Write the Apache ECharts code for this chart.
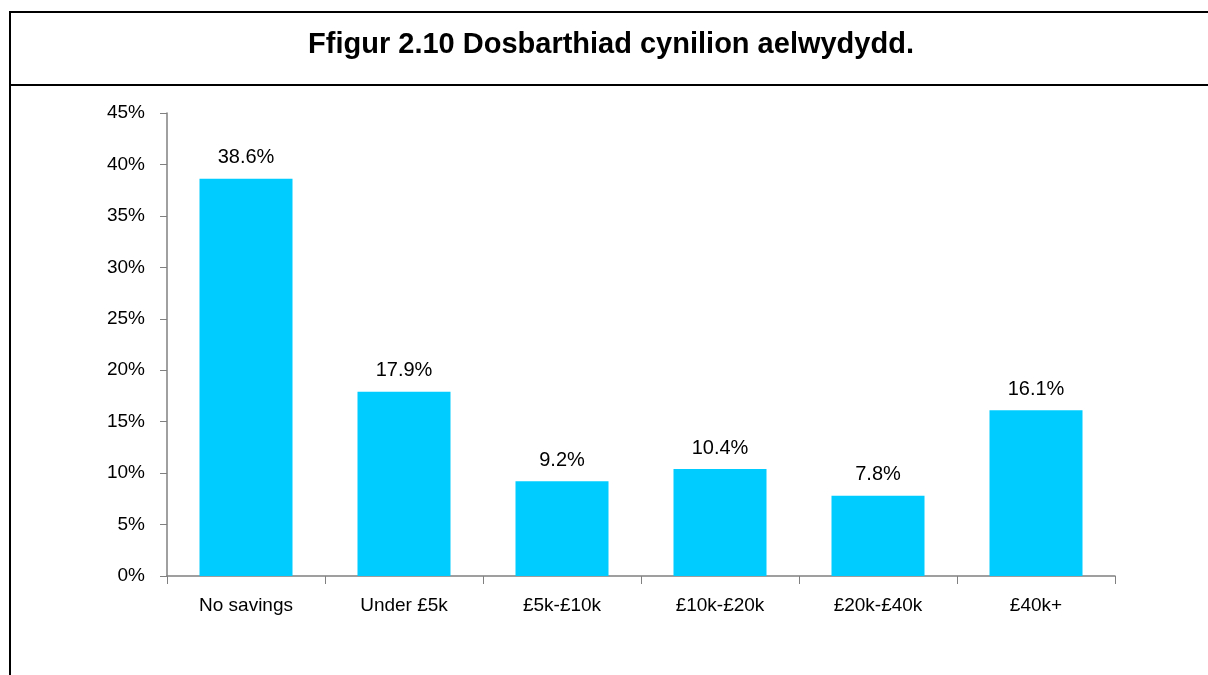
<!DOCTYPE html>
<html>
<head>
<meta charset="utf-8">
<script src="https://cdn.jsdelivr.net/npm/echarts@6/dist/echarts.min.js"></script>
<style>
  html, body { margin: 0; padding: 0; background: #fff; }
  #main { width: 1208px; height: 675px; }
</style>
</head>
<body>
<div id="main"></div>
<script>
var titleText = 'Ffigur 2.10 Dosbarthiad cynilion aelwydydd.';
var categories = ['No savings', 'Under £5k', '£5k-£10k', '£10k-£20k', '£20k-£40k', '£40k+'];
var shares = [38.6, 17.9, 9.2, 10.4, 7.8, 16.1];

var font = '"Liberation Sans", Arial, sans-serif';

var chart = echarts.init(document.getElementById('main'));
chart.setOption({
    animation: false,
    backgroundColor: '#fff',
    graphic: [
        // box around the figure
        { type: 'line', shape: { x1: 9, y1: 12, x2: 1208, y2: 12 }, style: { stroke: '#000', lineWidth: 2 } },
        { type: 'line', shape: { x1: 10, y1: 11, x2: 10, y2: 675 }, style: { stroke: '#000', lineWidth: 2 } },
        { type: 'line', shape: { x1: 9, y1: 85, x2: 1208, y2: 85 }, style: { stroke: '#000', lineWidth: 2 } },
        {
            type: 'text', x: 611, y: 45,
            style: {
                text: titleText, align: 'center', verticalAlign: 'middle',
                font: 'bold 29px ' + font, fill: '#000'
            }
        }
    ],
    grid: { left: 167, right: 93, top: 113, bottom: 99, containLabel: false },
    xAxis: {
        type: 'category',
        data: categories,
        axisLine: { lineStyle: { color: '#808080', width: 1.5 } },
        axisTick: { show: true, length: 8, lineStyle: { color: '#808080' } },
        axisLabel: { color: '#000', fontFamily: font, fontSize: 19, margin: 20 }
    },
    yAxis: {
        type: 'value',
        min: 0,
        max: 45,
        interval: 5,
        splitLine: { show: false },
        axisLine: { show: true, lineStyle: { color: '#808080', width: 1.5 } },
        axisTick: { show: true, length: 7, lineStyle: { color: '#808080' } },
        axisLabel: {
            color: '#000', fontFamily: font, fontSize: 19, margin: 22,
            formatter: function (v) { return v + '%'; }
        }
    },
    series: [{
        type: 'bar',
        data: shares,
        barWidth: 93,
        itemStyle: { color: '#00CCFF' },
        label: {
            show: true,
            position: 'top',
            distance: 11,
            color: '#000',
            fontFamily: font,
            fontSize: 20,
            formatter: function (p) { return p.value.toFixed(1) + '%'; }
        }
    }]
});
</script>
</body>
</html>
